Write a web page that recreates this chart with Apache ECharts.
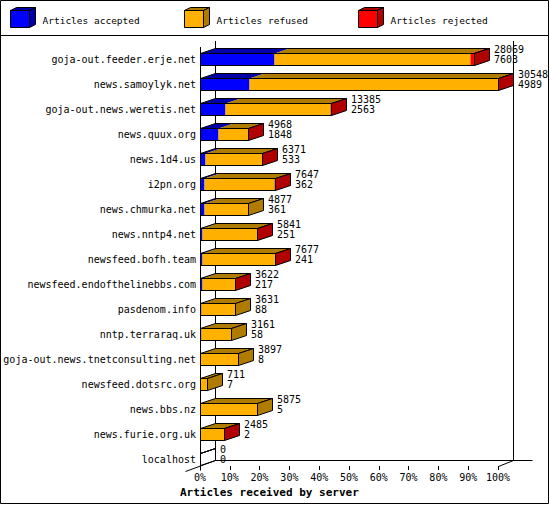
<!DOCTYPE html>
<html>
<head>
<meta charset="utf-8">
<script src="https://cdn.jsdelivr.net/npm/echarts@6/dist/echarts.min.js"></script>
<style>
html,body{margin:0;padding:0;background:#fff;}
#chart{width:550px;height:505px;}
</style>
</head>
<body>
<div id="chart"></div>
<script>
// ---- data ----
const categories = ['goja-out.feeder.erje.net','news.samoylyk.net','goja-out.news.weretis.net','news.quux.org','news.1d4.us','i2pn.org','news.chmurka.net','news.nntp4.net','newsfeed.bofh.team','newsfeed.endofthelinebbs.com','pasdenom.info','nntp.terraraq.uk','goja-out.news.tnetconsulting.net','newsfeed.dotsrc.org','news.bbs.nz','news.furie.org.uk','localhost'];
const totals   = [28069,30548,13385,4968,6371,7647,4877,5841,7677,3622,3631,3161,3897,711,5875,2485,0];
const accepted = [7603,4989,2563,1848,533,362,361,251,241,217,88,58,8,7,5,2,0];
const refused  = [20100,25509,10767,3090,5803,7255,4516,5570,7416,3390,3543,3103,3889,704,5870,2473,0];
const rejected = [366,50,55,30,35,30,0,20,20,15,0,0,0,0,0,10,0];
const tickLabels = ['0%','10%','20%','30%','40%','50%','60%','70%','80%','90%','100%'];
const seriesNames = ['Articles accepted','Articles refused','Articles rejected'];

const FRONT = ['#0000ff','#ffb000','#ff0000'];
const DARK  = ['#0000a8','#b07c00','#b00000'];
const MONO = '"DejaVu Sans Mono", "Liberation Mono", monospace';
const MAX = Math.max.apply(null, totals);
const DX = 15, DY = 5;

const barData = categories.map((c, i) => [i, accepted[i], refused[i], rejected[i], totals[i]]);

function renderBar(params, api) {
  const i = api.value(0);
  const vals = [api.value(1), api.value(2), api.value(3)];
  const total = api.value(4);
  const cy = Math.round(api.coord([0, i])[1]);
  const top = cy - 5.5, bot = cy + 6.5;
  const px = v => Math.round(api.coord([v / MAX * 100, i])[0]) + 0.5;
  const b = [px(0)];
  let acc = 0;
  for (let k = 0; k < 3; k++) { acc += vals[k]; b.push(px(acc)); }
  const x0 = b[0], x3 = b[3];
  const children = [];
  let last = -1;
  for (let k = 0; k < 3; k++) {
    if (vals[k] > 0) {
      last = k;
      children.push({type:'rect', shape:{x:b[k], y:top, width:b[k+1]-b[k], height:bot-top}, style:{fill:FRONT[k], stroke:null}});
      children.push({type:'polygon', shape:{points:[[b[k],top],[b[k]+DX,top-DY],[b[k+1]+DX,top-DY],[b[k+1],top]]}, style:{fill:DARK[k], stroke:null}});
    }
  }
  children.push({type:'rect', shape:{x:x0, y:top, width:x3-x0, height:bot-top}, style:{fill:null, stroke:'#000', lineWidth:1}});
  children.push({type:'polygon', shape:{points:[[x0,top],[x0+DX,top-DY],[x3+DX,top-DY],[x3,top]]}, style:{fill:null, stroke:'#000', lineWidth:1}});
  children.push({type:'polygon', shape:{points:[[x3,top],[x3+DX,top-DY],[x3+DX,bot-DY],[x3,bot]]}, style:{fill: last >= 0 ? DARK[last] : null, stroke:'#000', lineWidth:1}});
  const tx = x3 + DX + 4.5;
  children.push({type:'text', style:{text:String(total), x:tx, y:cy-10, fill:'#000', font:'10px ' + MONO, align:'left', verticalAlign:'middle'}});
  children.push({type:'text', style:{text:String(vals[0]), x:tx, y:cy, fill:'#000', font:'10px ' + MONO, align:'left', verticalAlign:'middle'}});
  return {type:'group', children: children};
}

function renderFrame(params, api) {
  const band = api.size([0, 1])[1];
  const c0 = api.coord([0, 0]);
  const x0 = Math.round(c0[0]) + 0.5;
  const x100 = Math.round(api.coord([100, 0])[0]) + 0.5;
  const yTop = Math.round(c0[1] - band / 2);
  const yFront = 466.5;
  const yBack = yFront - 6;
  const bTop = yTop - 6;
  const L = (x1,y1,x2,y2) => ({type:'line', shape:{x1:x1,y1:y1,x2:x2,y2:y2}, style:{stroke:'#000', lineWidth:1}});
  return {type:'group', children:[
    L(x0+DX, bTop, x0+DX, yBack),
    L(x100+DX, bTop, x100+DX, yBack),
    L(x0+DX, yBack, x100+DX+19, yBack),
    L(x0-15, yFront+5, x0+DX, yBack),
    L(x100, yFront, x100+DX, yBack),
    L(x0, yTop, x0, yFront+4)
  ]};
}

function cube(x, k) {
  const y = 10.5, w = 19, h = 17, d = 6, e = 3;
  return [
    {type:'polygon', shape:{points:[[x,y],[x+d,y-e],[x+w+d,y-e],[x+w,y]]}, style:{fill:DARK[k], stroke:'#000', lineWidth:1}},
    {type:'polygon', shape:{points:[[x+w,y],[x+w+d,y-e],[x+w+d,y+h-e],[x+w,y+h]]}, style:{fill:DARK[k], stroke:'#000', lineWidth:1}},
    {type:'rect', shape:{x:x, y:y, width:w, height:h}, style:{fill:FRONT[k], stroke:'#000', lineWidth:1}}
  ];
}

const legendX = [10.5, 184.5, 358.5];
const graphics = [
  {type:'rect', shape:{x:0.5, y:0.5, width:548, height:503}, style:{fill:null, stroke:'#000', lineWidth:1}, z:0},
  {type:'line', shape:{x1:0, y1:35.5, x2:549, y2:35.5}, style:{stroke:'#000', lineWidth:1}},
  {type:'text', x:180, y:492, style:{text:'Articles received by server', fill:'#000', font:'bold 11px ' + MONO, verticalAlign:'middle'}}
];
seriesNames.forEach((n, k) => {
  cube(legendX[k], k).forEach(g => graphics.push(g));
  graphics.push({type:'text', x:legendX[k] + 32, y:20, style:{text:n, fill:'#000', font:'9.5px ' + MONO, verticalAlign:'middle'}});
});

const chart = echarts.init(document.getElementById('chart'), null, {renderer:'svg', width:550, height:505});
chart.setOption({
  animation: false,
  backgroundColor: '#fff',
  grid: {left:200, top:46.5, width:298, height:425, containLabel:false},
  xAxis: {
    type:'value', min:0, max:100, interval:10, offset:-5.5,
    axisLine:{show:false},
    axisTick:{show:true, length:4, lineStyle:{color:'#000'}},
    axisLabel:{margin:6, color:'#000', fontFamily:MONO, fontSize:10, formatter:(v) => tickLabels[Math.round(v/10)]},
    splitLine:{show:false}
  },
  yAxis: {
    type:'category', inverse:true, data:categories,
    axisLine:{show:false}, axisTick:{show:false},
    axisLabel:{margin:4, color:'#000', fontFamily:MONO, fontSize:10},
    splitLine:{show:false}
  },
  graphic: graphics,
  series: [
    {type:'custom', name:'frame', renderItem:renderFrame, data:[[0,0]], encode:{y:0, x:1}, z:1, silent:true},
    {type:'custom', name:'bars', renderItem:renderBar, data:barData, encode:{y:0, x:4}, z:2, silent:true}
  ]
});
</script>
</body>
</html>
